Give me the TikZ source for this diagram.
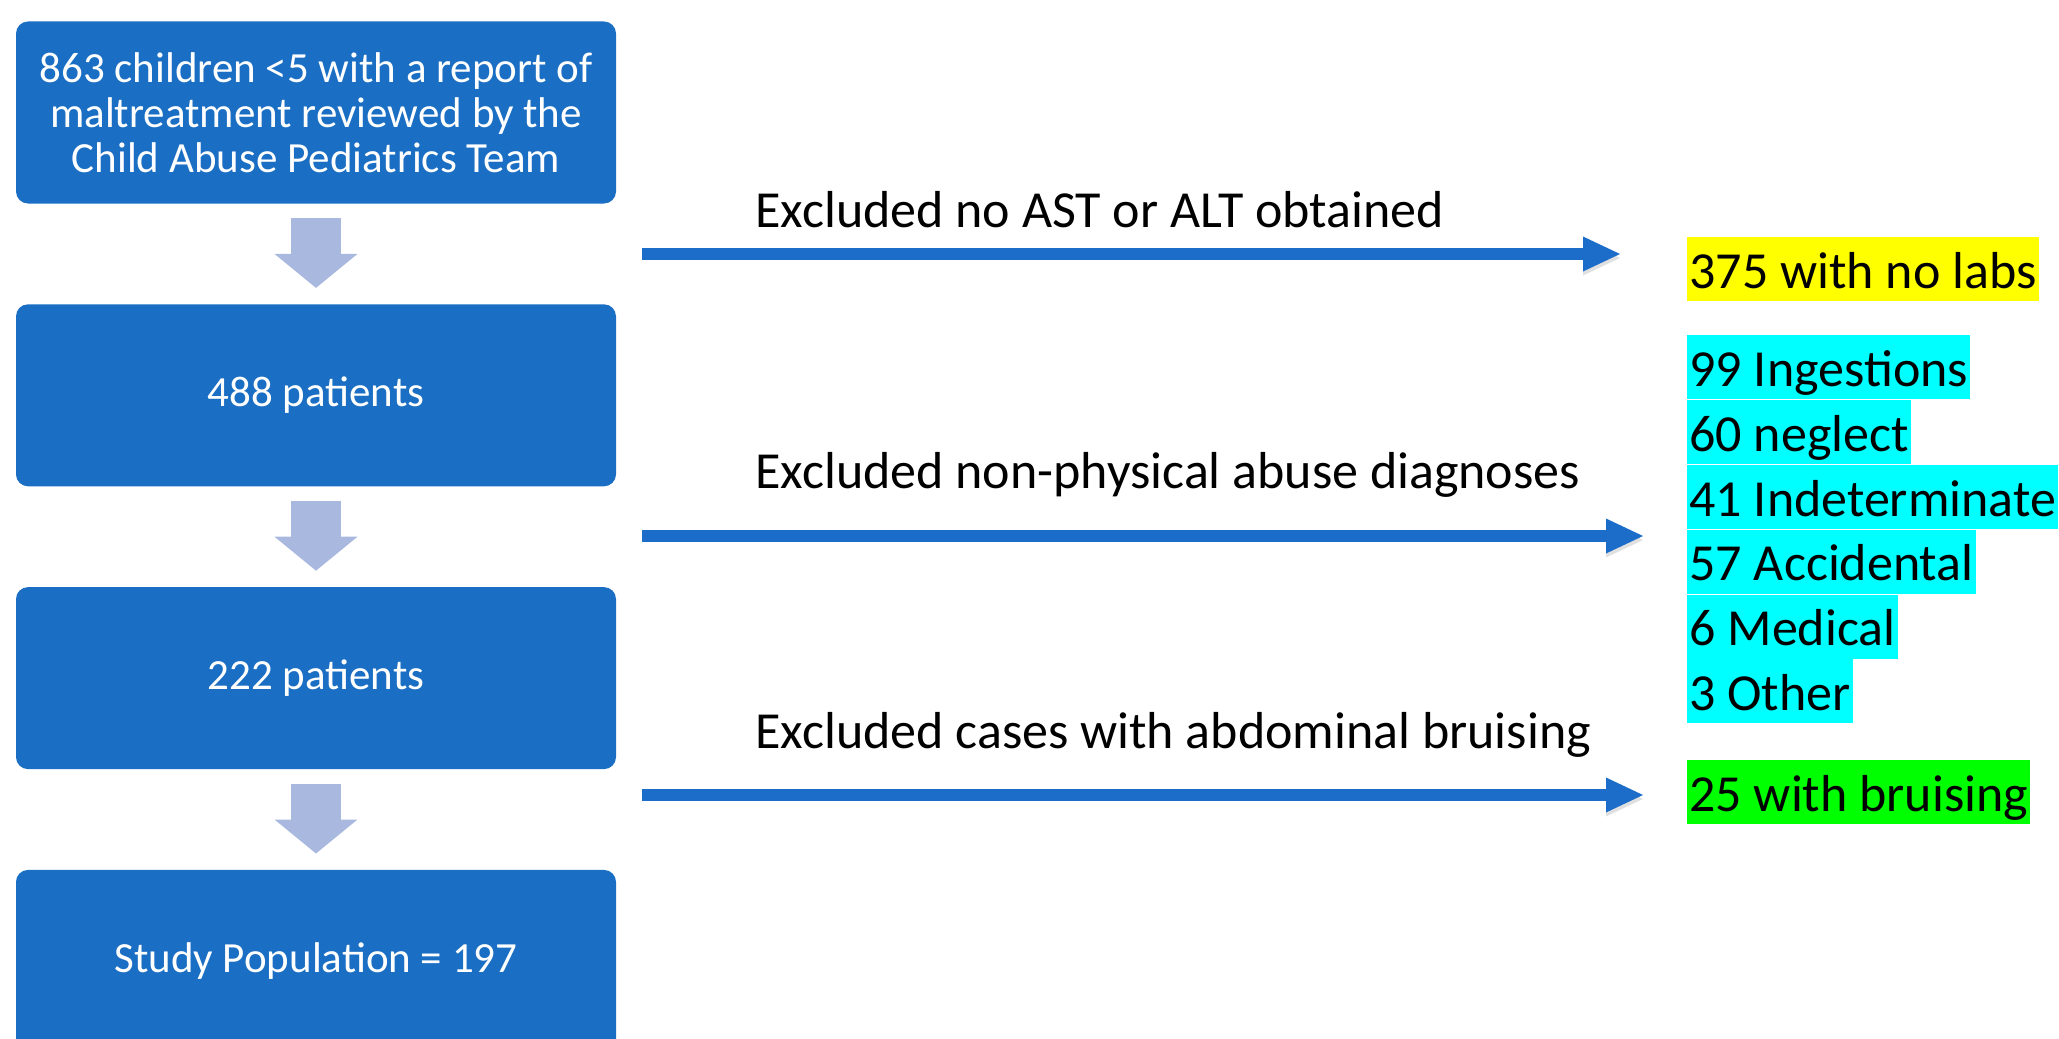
\documentclass[tikz,border=0pt]{standalone}
\usepackage{fontspec}
\setmainfont{Carlito}
\usepackage{tikz}
\usetikzlibrary{arrows.meta, positioning}

\definecolor{boxblue}{HTML}{1A6EC3}
\definecolor{stepgray}{HTML}{A9B8DF}
\definecolor{linkblue}{HTML}{1C6DC9}
\definecolor{markyellow}{HTML}{FFFF00}
\definecolor{markcyan}{HTML}{00FFFF}
\definecolor{markgreen}{HTML}{00FF00}

\begin{document}
\begin{tikzpicture}[
  x=0.5pt, y=-0.5pt,
  node distance=50pt,
  stagebox/.style={fill=boxblue, rounded corners=6pt, minimum width=300pt, minimum height=91pt,
                   inner sep=0pt, align=center, text=white, font=\fontsize{21.5}{22.5}\selectfont},
  stepdown/.style={draw=stepgray, line width=25pt, shorten <=7pt, shorten >=8pt,
                   -{Triangle[width=41.5pt, length=17pt, line width=0pt]}},
  exclude/.style={draw=linkblue, line width=6pt,
                  -{Triangle[width=17.5pt, length=18.5pt, line width=0pt]},
                  preaction={draw=black!12, transform canvas={yshift=-2pt}}},
  exlabel/.style={anchor=base west, inner sep=0pt, font=\fontsize{26}{31}\selectfont},
  tally/.style={anchor=north west, inner xsep=1pt, inner ysep=0pt, text height=25.5pt,
                text depth=6.5pt, font=\fontsize{26}{32}\selectfont}
]
\useasboundingbox (0,0) rectangle (2059,1038);
\clip (0,0) rectangle (2059,1038);

% main flow
\node[stagebox] (screened) at (316,112.5) {863 children <5 with a report of\\maltreatment reviewed by the\\Child Abuse Pediatrics Team};
\node[stagebox, below=of screened] (withlabs) {488 patients};
\node[stagebox, below=of withlabs] (physical) {222 patients};
\node[stagebox, below=of physical] (study) {Study Population = 197};

\draw[stepdown] (screened) -- (withlabs);
\draw[stepdown] (withlabs) -- (physical);
\draw[stepdown] (physical) -- (study);

% exclusions
\coordinate (from1) at (642,254);
\coordinate (to1) at (1620,254);
\coordinate (from2) at (642,536);
\coordinate (to2) at (1643,536);
\coordinate (from3) at (642,795);
\coordinate (to3) at (1643,795);

\node[exlabel] (nolabtxt) at (755,227) {Excluded no AST or ALT obtained};
\node[exlabel] (nonphystxt) at (755,488) {Excluded non-physical abuse diagnoses};
\node[exlabel] (bruisetxt) at (755,748) {Excluded cases with abdominal bruising};

\draw[exclude] (from1) -- (to1);
\draw[exclude] (from2) -- (to2);
\draw[exclude] (from3) -- (to3);

% counts
\node[tally, fill=markyellow] (nolabs) at (1687,237) {375 with no labs};
\node[tally, fill=markcyan] (ingest) at (1687,335) {99 Ingestions};
\node[tally, fill=markcyan] (neglect) at (ingest.south west) {60 neglect};
\node[tally, fill=markcyan] (indet) at (neglect.south west) {41 Indeterminate};
\node[tally, fill=markcyan] (accid) at (indet.south west) {57 Accidental};
\node[tally, fill=markcyan] (medical) at (accid.south west) {6 Medical};
\node[tally, fill=markcyan] (other) at (medical.south west) {3 Other};
\node[tally, fill=markgreen] (bruised) at (1687,760) {25 with bruising};
\end{tikzpicture}
\end{document}
